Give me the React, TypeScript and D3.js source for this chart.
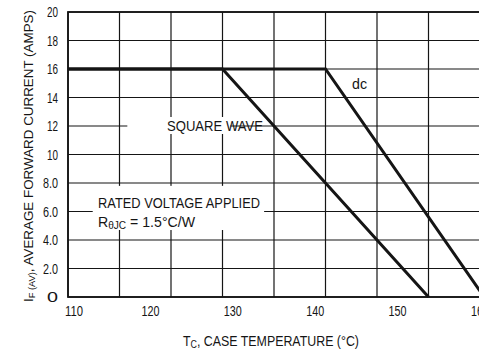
import { useRef, useEffect } from "react";
import * as d3 from "d3";

type Pt = { t: number; amps: number };

// x grid: 8 equal divisions between 110 and 160
const gridTemps = d3.range(0, 9).map((i) => 110 + i * 6.25);
const gridAmps = [0, 2, 4, 6, 8, 10, 12, 14, 16, 18, 20];
const xTickValues = [110, 120, 130, 140, 150, 160];
const xTickLabels = ["110", "120", "130", "140", "150", "160"];
const yTickValues = [0, 2, 4, 6, 8, 10, 12, 14, 16, 18, 20];
const yTickLabels = ["0", "2.0", "4.0", "6.0", "8.0", "10", "12", "14", "16", "18", "20"];

const squareWave: Pt[] = [
  { t: 110, amps: 16 },
  { t: 128.75, amps: 16 },
  { t: 153.75, amps: 0 },
];
const dcCurve: Pt[] = [
  { t: 110, amps: 16 },
  { t: 141.25, amps: 16 },
  { t: 160.5, amps: 0 },
];

const width = 479;
const height = 354;
const FONT = "'Liberation Sans Narrow', 'Liberation Sans', Arial, sans-serif";
const INK = "#151515";

export default function App() {
  const ref = useRef<SVGSVGElement>(null);

  useEffect(() => {
    if (!ref.current) return;
    const svg = d3.select(ref.current);
    svg.selectAll("*").remove();

    const x = d3.scaleLinear().domain([110, 160]).range([68, 480]);
    const y = d3.scaleLinear().domain([0, 20]).range([297, 12]);

    svg.append("rect").attr("width", width).attr("height", height).attr("fill", "#fff");

    // grid
    const grid = svg.append("g").attr("stroke", INK).attr("stroke-width", 1.2);
    grid
      .selectAll("line.v")
      .data(gridTemps)
      .join("line")
      .attr("class", "v")
      .attr("x1", (d) => x(d))
      .attr("x2", (d) => x(d))
      .attr("y1", y(20))
      .attr("y2", y(0));
    grid
      .selectAll("line.h")
      .data(gridAmps)
      .join("line")
      .attr("class", "h")
      .attr("x1", x(110))
      .attr("x2", x(160))
      .attr("y1", (d) => y(d))
      .attr("y2", (d) => y(d));

    // frame
    svg
      .append("rect")
      .attr("x", x(110))
      .attr("y", y(20))
      .attr("width", x(160) - x(110))
      .attr("height", y(0) - y(20))
      .attr("fill", "none")
      .attr("stroke", INK)
      .attr("stroke-width", 1.8);

    // annotation backgrounds (break the grid behind the labels)
    svg
      .append("rect")
      .attr("x", x(117.2))
      .attr("y", y(12) - 9)
      .attr("width", x(129.7) - x(117.2))
      .attr("height", 17)
      .attr("fill", "#fff");
    svg
      .append("rect")
      .attr("x", x(113))
      .attr("y", y(7.8))
      .attr("width", x(133.8) - x(113))
      .attr("height", y(4.7) - y(7.8))
      .attr("fill", "#fff");

    // curves
    const line = d3
      .line<Pt>()
      .x((d) => x(d.t))
      .y((d) => y(d.amps));
    [dcCurve, squareWave].forEach((s) => {
      svg
        .append("path")
        .datum(s)
        .attr("fill", "none")
        .attr("stroke", INK)
        .attr("stroke-width", 3)
        .attr("stroke-linejoin", "miter")
        .attr("d", line);
    });

    const text = (
      px: number,
      py: number,
      str: string,
      size: number,
      len?: number,
      anchor = "start"
    ) => {
      const t = svg
        .append("text")
        .attr("x", px)
        .attr("y", py)
        .attr("font-family", FONT)
        .attr("font-size", size)
        .attr("fill", INK)
        .attr("text-anchor", anchor)
        .text(str);
      if (len) t.attr("textLength", len).attr("lengthAdjust", "spacingAndGlyphs");
      return t;
    };

    // tick labels
    yTickValues.forEach((v, i) => {
      text(58, y(v) + 5, yTickLabels[i], 14, yTickLabels[i].length > 2 ? 15 : 11, "end");
    });
    xTickValues.forEach((v, i) => {
      text(x(v) + (i === 0 ? 6 : 0), 316, xTickLabels[i], 14, 18, "middle");
    });

    // labels inside the plot
    text(167, 131, "SQUARE WAVE", 14, 96);
    text(352, 89, "dc", 14, 15);
    text(98, 208, "RATED VOLTAGE APPLIED", 14, 162);
    const r = svg
      .append("text")
      .attr("x", 98)
      .attr("y", 227)
      .attr("font-family", FONT)
      .attr("font-size", 14)
      .attr("fill", INK)
      .attr("textLength", 97)
      .attr("lengthAdjust", "spacingAndGlyphs");
    r.append("tspan").text("R");
    r.append("tspan").attr("font-size", 10).attr("dy", 2).text("θJC");
    r.append("tspan").attr("dy", -2).text(" = 1.5°C/W");

    // x axis title
    const xt = svg
      .append("text")
      .attr("x", 183)
      .attr("y", 346)
      .attr("font-family", FONT)
      .attr("font-size", 14)
      .attr("fill", INK)
      .attr("textLength", 176)
      .attr("lengthAdjust", "spacingAndGlyphs");
    xt.append("tspan").text("T");
    xt.append("tspan").attr("font-size", 10).attr("dy", 2).text("C");
    xt.append("tspan").attr("dy", -2).text(", CASE TEMPERATURE (°C)");

    // y axis title
    const yt = svg
      .append("text")
      .attr("transform", `translate(33, 156) rotate(-90)`)
      .attr("text-anchor", "middle")
      .attr("font-family", FONT)
      .attr("font-size", 13)
      .attr("fill", INK)
      .attr("textLength", 292)
      .attr("lengthAdjust", "spacingAndGlyphs");
    yt.append("tspan").text("I");
    yt.append("tspan").attr("font-size", 9).attr("dy", 2).text("F (AV)");
    yt.append("tspan").attr("dy", -2).text(", AVERAGE FORWARD CURRENT (AMPS)");
  }, []);

  return (
    <svg
      ref={ref}
      width={width}
      height={height}
      style={{ position: "absolute", left: 0, top: 0, display: "block" }}
    />
  );
}
